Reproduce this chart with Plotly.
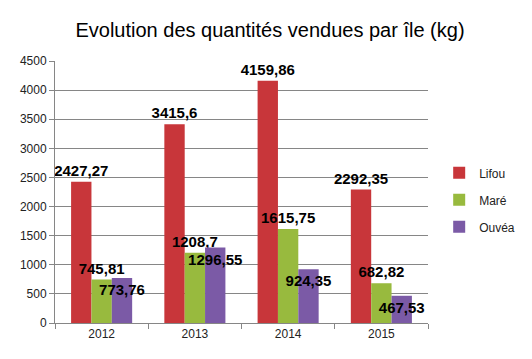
import plotly.graph_objects as go

years = ["2012", "2013", "2014", "2015"]
lifou = [2427.27, 3415.6, 4159.86, 2292.35]
mare = [745.81, 1208.7, 1615.75, 682.82]
ouvea = [773.76, 1296.55, 924.35, 467.53]
y_ticks = [0, 500, 1000, 1500, 2000, 2500, 3000, 3500, 4000, 4500]

def fr(v):
    s = ("%.2f" % v).rstrip("0").rstrip(".")
    return s.replace(".", ",")

FONT = "Liberation Sans, Arial, sans-serif"
label_font = dict(family=FONT, size=15, color="black")

fig = go.Figure()
series = [
    ("Lifou", lifou, "#C8363A", "outside"),
    ("Maré", mare, "#98BA3E", "outside"),
    ("Ouvéa", ouvea, "#7B5AA6", "inside"),
]
for name, vals, col, pos in series:
    fig.add_trace(go.Bar(
        x=years, y=vals, name=name, legendgroup=name,
        marker=dict(color=col, line=dict(width=0)),
        text=["<b>%s</b>" % fr(v) for v in vals],
        textposition=pos,
        insidetextanchor="end",
        textangle=0,
        constraintext="none",
        cliponaxis=False,
        textfont=label_font,
        insidetextfont=label_font,
        outsidetextfont=label_font,
    ))

# page body has an 8px margin: figure sized to fill the rest of the window
fig.update_layout(
    width=524, height=351,
    margin=dict(l=45, r=94, t=53, b=36),
    paper_bgcolor="white", plot_bgcolor="white",
    barmode="group", bargap=0.345, bargroupgap=0,
    title=dict(text="Evolution des quantités vendues par île (kg)",
               x=0.5, xanchor="center", y=0.937, yanchor="middle",
               font=dict(family=FONT, size=20, color="black")),
    legend=dict(x=1.03, xanchor="left", y=0.47, yanchor="middle",
                traceorder="grouped", tracegroupgap=8,
                font=dict(family=FONT, size=12, color="#222"),
                itemwidth=30),
    showlegend=True,
)
fig.update_xaxes(
    type="category", showline=True, linecolor="#868686", linewidth=1,
    ticks="outside", tickson="boundaries", ticklen=5, tickcolor="#868686",
    showgrid=False,
    tickfont=dict(family=FONT, size=12, color="#222"),
)
fig.update_yaxes(
    range=[0, 4500], tickvals=y_ticks, ticktext=[str(t) for t in y_ticks],
    showline=True, linecolor="#868686", linewidth=1,
    ticks="outside", ticklen=5, tickcolor="#868686",
    showgrid=True, gridcolor="#868686", gridwidth=1,
    zeroline=False,
    tickfont=dict(family=FONT, size=12, color="#222"),
)
fig.write_html("out.html")
